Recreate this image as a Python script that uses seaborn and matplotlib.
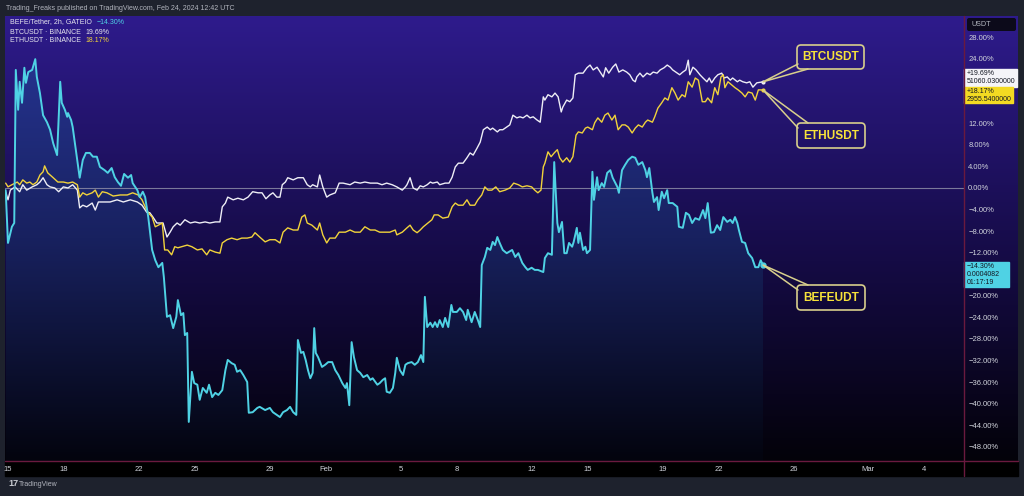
import numpy as np
import pandas as pd
import matplotlib
matplotlib.use("Agg")
import matplotlib.pyplot as plt
import seaborn as sns
from matplotlib.colors import LinearSegmentedColormap
from matplotlib.patches import FancyBboxPatch, Rectangle
from matplotlib.ticker import FuncFormatter

# hours since 15 Jan 2024 00:00 UTC and % change
bef_h = [-3, 0, 5, 8, 10, 13, 15, 18, 21, 23, 26, 31, 35, 37, 41, 45, 50, 54, 58, 63,
         67, 69, 73, 76, 77, 81, 83, 87, 92, 96, 100, 105, 109, 114, 118, 124, 128, 133, 137, 141,
         145, 149, 154, 158, 160, 166, 169, 173, 176, 180, 185, 189, 193, 198, 200, 204, 208, 212, 216, 218,
         222, 225, 227, 230, 232, 236, 239, 243, 246, 250, 255, 258, 262, 266, 270, 275, 279, 282, 287, 291,
         294, 298, 302, 307, 309, 314, 320, 323, 330, 336, 340, 345, 349, 353, 358, 362, 366, 370, 372, 376,
         379, 382, 385, 388, 391, 393, 395, 398, 403, 407, 411, 416, 420, 424, 429, 433, 435, 438, 441, 444,
         448, 452, 456, 461, 465, 468, 474, 477, 481, 484, 486, 490, 494, 497, 499, 503, 507, 510, 513, 518,
         522, 526, 530, 533, 535, 538, 542, 545, 548, 551, 554, 558, 561, 565, 569, 571, 576, 580, 584, 588,
         590, 595, 599, 603, 606, 608, 612, 615, 619, 622, 625, 628, 631, 635, 640, 647, 651, 655, 660, 664,
         667, 672, 676, 680, 687, 689, 693, 698, 701, 705, 707, 711, 714, 717, 720, 724, 726, 730, 732, 734,
         738, 741, 743, 747, 750, 752, 756, 758, 762, 765, 769, 773, 776, 782, 784, 788, 792, 796, 801, 805,
         809, 814, 818, 820, 823, 827, 829, 833, 835, 839, 842, 846, 848, 853, 859, 861, 866, 870, 874, 878,
         882, 887, 892, 895, 898, 902, 906, 910, 914, 918, 923, 927, 930, 933, 936, 938, 942, 946, 950, 955,
         959, 963, 966, 969]
bef_pct = [-0.4, -10.2, -7.2, -6.5, 21.9, 14.5, 19.7, 15.8, 22.3, 19.5, 21.5, 21.9, 23.9, 20.6, 17.6, 13.5, 12.2, 10.8, 8.3, 6.1,
           19.7, 15.8, 14.5, 13.2, 13.9, 12.6, 11.3, 7.1, 1.9, 5.2, 6.5, 6.5, 5.8, 5.8, 3.9, 3.3, 2.8, 3.7, 2.0, 1.1,
           0.4, 2.6, 1.9, 2.4, 0.9, -0.4, -1.7, -0.7, -1.7, -5.4, -11.5, -13.4, -14.7, -13.9, -16.5, -23.9, -23.6, -26.0, -23.9, -20.8,
           -23.6, -23.2, -27.3, -26.9, -43.4, -34.1, -36.2, -36.5, -39.3, -37.1, -38.0, -36.5, -38.8, -38.0, -38.4, -37.5, -33.8, -31.9, -32.5, -32.8,
           -34.1, -33.8, -34.7, -36.0, -41.7, -41.6, -40.8, -40.6, -41.2, -40.8, -41.6, -42.1, -42.5, -41.6, -41.2, -40.6, -41.6, -42.1, -28.2, -30.6,
           -30.4, -31.9, -33.8, -35.3, -34.3, -26.0, -30.6, -31.4, -33.2, -32.8, -32.3, -32.3, -33.8, -34.7, -36.2, -37.1, -36.2, -40.3, -28.6, -31.4,
           -33.8, -34.3, -35.1, -34.7, -35.6, -35.3, -36.5, -36.2, -35.6, -35.3, -37.8, -38.0, -37.1, -34.3, -31.5, -33.8, -34.7, -32.8, -32.5, -32.3,
           -32.8, -32.3, -31.0, -32.3, -20.2, -25.8, -25.0, -25.8, -24.9, -25.8, -24.5, -25.8, -24.1, -25.8, -21.7, -23.0, -23.0, -22.3, -23.0, -24.5,
           -22.6, -24.9, -23.0, -24.5, -25.8, -14.3, -12.8, -11.1, -11.5, -10.0, -10.6, -9.1, -10.2, -11.5, -12.1, -11.5, -12.8, -12.1, -13.9, -14.7,
           -15.2, -14.8, -15.2, -15.2, -15.6, -13.0, -12.1, -12.4, 4.8, -6.5, -8.2, -6.3, -12.1, -12.1, -10.2, -10.9, -10.0, -7.4, -10.2, -8.3,
           -11.5, -10.9, -12.1, -11.5, 3.0, -2.2, 2.0, -0.4, 0.9, 0.2, 2.8, 3.3, 1.9, 0.2, -0.9, 3.3, 4.3, 5.2, 5.8, 5.6,
           4.3, 4.8, 3.3, 2.0, 3.7, -0.9, -2.6, -1.7, -4.1, -0.7, -1.9, -0.4, -2.8, -2.8, -3.5, -7.2, -7.4, -4.6, -5.0, -6.5,
           -5.6, -5.9, -4.1, -5.6, -2.8, -8.3, -8.2, -6.9, -7.8, -5.4, -6.3, -5.9, -6.5, -5.4, -6.5, -7.8, -10.0, -10.2, -12.1, -13.0,
           -14.7, -14.7, -13.4, -14.3]

btc_h = [-3, 0, 3, 9, 15, 19, 24, 31, 37, 41, 45, 50, 54, 60, 65, 71, 77, 83, 89, 92,
         96, 101, 108, 112, 116, 122, 131, 140, 148, 157, 166, 172, 178, 182, 186, 191, 195, 199, 204, 208,
         212, 217, 221, 227, 234, 240, 246, 253, 259, 266, 272, 275, 279, 282, 289, 295, 302, 308, 314, 321,
         326, 331, 336, 340, 345, 349, 352, 356, 359, 366, 372, 379, 384, 388, 391, 397, 400, 404, 409, 413,
         420, 425, 430, 439, 445, 452, 458, 465, 474, 480, 486, 493, 499, 506, 510, 512, 516, 520, 525, 529,
         533, 538, 542, 545, 551, 554, 561, 566, 570, 574, 578, 584, 589, 593, 597, 602, 606, 610, 615, 619,
         622, 628, 631, 635, 640, 644, 648, 653, 657, 661, 666, 670, 674, 679, 683, 687, 689, 693, 698, 702,
         706, 710, 712, 717, 721, 725, 728, 732, 738, 743, 747, 751, 756, 760, 764, 767, 771, 776, 780, 784,
         789, 794, 798, 802, 805, 807, 811, 815, 820, 824, 828, 833, 837, 842, 846, 850, 853, 859, 862, 866,
         870, 873, 875, 879, 883, 888, 892, 897, 900, 903, 907, 911, 916, 919, 923, 927, 930, 936, 939, 943,
         948, 952, 956, 961, 969]
btc_pct = [-0.7, -2.2, -0.4, 0.2, -0.7, 0.6, -0.4, 0.2, 0.6, 1.1, 1.9, 0.6, 0.2, 0.0, -0.7, 0.2, 0.0, 0.6, -0.4, -3.7,
           -3.2, -3.5, -2.8, -4.1, -2.6, -2.6, -2.6, -2.2, -2.6, -2.2, -2.6, -3.2, -4.5, -4.6, -5.4, -6.5, -6.5, -6.5, -9.1, -8.2,
           -7.2, -6.5, -6.9, -5.9, -6.5, -6.3, -6.5, -6.3, -6.5, -6.3, -6.3, -3.5, -2.8, -1.7, -2.2, -1.9, -2.2, -1.7, -0.7, -0.9,
           -0.9, -2.0, -1.3, -0.9, -1.7, -1.7, 0.6, 1.1, 1.9, 1.5, 1.9, 1.9, 0.6, 0.2, 0.6, 0.2, 2.4, 0.2, -1.7, -1.3,
           -0.9, 0.9, 0.9, 0.6, 1.1, 0.9, 1.1, 0.9, 0.9, 0.6, 0.9, 0.6, 0.2, -0.4, 0.2, 0.6, 1.9, 0.0, -0.4, 0.4,
           0.2, 0.6, 1.1, 0.9, 1.1, 0.6, 0.9, 0.9, 2.0, 3.9, 4.6, 4.6, 5.6, 6.5, 6.1, 7.4, 8.5, 10.8, 11.3, 10.8,
           11.1, 10.4, 10.8, 10.8, 11.3, 11.7, 13.5, 13.0, 13.2, 13.0, 13.5, 13.0, 13.2, 12.6, 12.2, 16.9, 16.3, 17.3, 16.9, 17.6,
           16.9, 14.1, 15.0, 16.3, 16.0, 16.7, 21.0, 21.3, 21.3, 22.3, 22.8, 21.9, 22.4, 21.5, 20.6, 22.3, 21.3, 22.4, 23.0, 21.5,
           21.9, 21.5, 21.0, 20.0, 19.7, 20.6, 21.3, 20.6, 21.3, 21.0, 21.5, 21.3, 21.9, 22.3, 22.8, 22.4, 21.9, 21.3, 21.0, 21.5,
           21.9, 23.7, 21.0, 22.4, 21.9, 21.0, 20.4, 19.7, 20.4, 19.5, 20.4, 21.0, 21.3, 20.4, 20.6, 20.0, 20.4, 19.7, 20.0, 19.7,
           19.5, 19.7, 18.7, 19.5, 19.69]

eth_h = [-3, 0, 5, 12, 15, 19, 24, 28, 32, 37, 41, 45, 47, 51, 58, 64, 71, 77, 83, 89,
         92, 96, 101, 108, 112, 116, 121, 127, 135, 144, 153, 160, 167, 172, 176, 180, 185, 189, 193, 198,
         201, 205, 210, 214, 218, 223, 230, 236, 243, 249, 255, 259, 266, 272, 275, 281, 287, 294, 300, 307,
         313, 317, 323, 330, 336, 343, 349, 353, 359, 366, 372, 377, 381, 384, 390, 397, 400, 404, 409, 413,
         420, 425, 433, 439, 445, 452, 458, 465, 471, 477, 484, 490, 497, 499, 506, 512, 516, 520, 525, 529,
         533, 539, 544, 547, 552, 558, 565, 570, 574, 578, 584, 589, 593, 599, 603, 608, 612, 616, 621, 626,
         631, 638, 644, 649, 655, 660, 666, 672, 676, 680, 684, 687, 689, 693, 697, 701, 705, 708, 712, 717,
         721, 725, 729, 732, 737, 741, 744, 750, 753, 757, 762, 766, 770, 775, 779, 783, 788, 792, 796, 801,
         805, 809, 814, 818, 821, 827, 830, 834, 839, 843, 847, 852, 856, 860, 865, 869, 873, 878, 882, 886,
         891, 895, 898, 903, 907, 911, 915, 918, 920, 924, 929, 933, 937, 942, 946, 950, 955, 959, 963, 969]
eth_pct = [0.9, 0.2, 0.6, 1.1, 0.6, 1.5, 0.9, 1.1, 0.6, 1.1, 2.4, 3.0, 4.1, 2.8, 1.9, 1.1, 1.1, 0.9, 1.1, 0.6,
           -1.7, -0.9, -1.3, -0.9, -0.4, -1.7, -0.7, -0.9, -1.5, -1.3, -1.3, -0.9, -1.3, -2.2, -3.5, -4.6, -5.4, -7.2, -6.9, -6.5,
           -11.5, -11.5, -12.4, -10.9, -11.1, -10.9, -10.6, -10.9, -11.5, -11.3, -12.4, -11.5, -11.9, -12.1, -10.2, -9.6, -9.3, -9.6, -9.3, -9.3,
           -9.1, -8.3, -9.1, -10.0, -9.6, -9.6, -10.2, -8.2, -7.4, -7.8, -7.8, -5.4, -5.0, -6.5, -6.9, -7.8, -6.5, -8.7, -10.2, -9.3,
           -9.3, -8.2, -8.2, -7.8, -8.2, -8.2, -7.2, -7.8, -7.8, -8.2, -8.2, -8.2, -7.8, -8.7, -8.2, -7.4, -6.9, -7.8, -8.3, -7.8,
           -7.2, -6.5, -5.9, -5.0, -5.0, -5.6, -5.4, -3.5, -2.8, -3.2, -3.2, -2.2, -3.2, -3.2, -2.2, -1.3, 0.2, -0.4, -0.4, 0.2,
           -0.7, -0.4, 0.0, 0.9, 0.6, 0.2, 0.4, 0.2, -0.4, -0.9, -0.4, 3.9, 4.6, 6.7, 5.8, 6.5, 7.1, 5.6, 4.8, 5.6,
           4.8, 5.8, 9.8, 10.4, 10.2, 11.1, 11.3, 10.8, 12.1, 13.0, 12.2, 13.5, 13.9, 12.6, 13.5, 10.8, 11.7, 11.7, 11.3, 10.2,
           11.1, 11.7, 11.3, 12.2, 12.6, 12.2, 13.2, 14.8, 15.8, 16.7, 16.3, 18.6, 17.6, 16.3, 17.3, 16.9, 19.7, 18.7, 20.4, 20.0,
           16.0, 16.0, 16.7, 15.8, 18.6, 17.3, 20.6, 21.0, 18.6, 19.7, 19.1, 18.6, 18.2, 17.6, 16.9, 17.8, 17.6, 16.3, 18.2, 18.17]

# time axis labels (day offset from 15 Jan)
tick_days = [0, 3, 7, 10, 14, 17, 21, 24, 28, 31, 35, 38, 42, 46, 49]
tick_labels = ["15", "18", "22", "25", "29", "Feb", "5", "8", "12", "15", "19", "22", "26", "Mar", "4"]
# price scale levels; 20% and -16% sit under the price tags
pct_ticks = [28, 24, 16, 12, 8, 4, 0, -4, -8, -12, -20, -24, -28, -32, -36, -40, -44, -48]

W, H = 1024, 496
sns.set_theme(style="dark")
plt.rcParams["font.family"] = ["Liberation Sans", "DejaVu Sans"]

fig = plt.figure(figsize=(W / 100, H / 100), dpi=100, facecolor="#1e222d")


def fig_rect(x0, y0, x1, y1):
    # pixel box (top-left origin) -> figure fraction rect
    return [x0 / W, 1 - y1 / H, (x1 - x0) / W, (y1 - y0) / H]


# black time-scale strip behind everything
fig.add_artist(Rectangle((5 / W, 1 - 476 / H), 1013 / W, 15 / H, transform=fig.transFigure,
                         color="#000000", zorder=-5))

# gradient backdrop for chart + price scale
bg = fig.add_axes(fig_rect(5, 16, 1018, 461))
bg_cmap = LinearSegmentedColormap.from_list(
    "bg", [(0.0, "#030209"), (0.45, "#150b45"), (1.0, "#2e1b8c")])
bg.imshow(np.linspace(0, 1, 256).reshape(-1, 1), aspect="auto", cmap=bg_cmap,
          origin="lower", extent=[0, 1, 0, 1])
bg.set_axis_off()

ax = fig.add_axes(fig_rect(5, 16, 964, 461))
ax.set_facecolor("none")
x_lo, x_hi = -3.85, 1226.9
y_lo, y_hi = -50.65, 31.9

# gradient fill under BEFE
fill = ax.fill_between(bef_h, bef_pct, y_lo, color="none", lw=0)
fill_cmap = LinearSegmentedColormap.from_list(
    "fill", [(0.0, "#03040e"), (0.5, "#18215f"), (1.0, "#28379a")])
grad = ax.imshow(np.linspace(0, 1, 256).reshape(-1, 1), aspect="auto", cmap=fill_cmap,
                 origin="lower", extent=[bef_h[0], bef_h[-1], y_lo, y_hi], zorder=1)
grad.set_clip_path(fill.get_paths()[0], transform=ax.transData)

ax.axhline(0, color="#8c8ca6", lw=0.8, alpha=0.85, zorder=2)

df_bef = pd.DataFrame({"h": bef_h, "pct": bef_pct})
df_btc = pd.DataFrame({"h": btc_h, "pct": btc_pct})
df_eth = pd.DataFrame({"h": eth_h, "pct": eth_pct})
sns.lineplot(data=df_btc, x="h", y="pct", ax=ax, color="#eeeef6", lw=1.0, errorbar=None, zorder=4)
sns.lineplot(data=df_eth, x="h", y="pct", ax=ax, color="#f1d33b", lw=1.0, errorbar=None, zorder=4)
sns.lineplot(data=df_bef, x="h", y="pct", ax=ax, color="#4fd2e4", lw=1.4, errorbar=None, zorder=5)
ax.plot(bef_h[-1], bef_pct[-1], "o", color="#4fd2e4", ms=3.5, zorder=6)
ax.plot(btc_h[-1], btc_pct[-1], "o", color="#eeeef6", ms=2, zorder=6)
ax.plot(eth_h[-1], eth_pct[-1], "o", color="#f1d33b", ms=2, zorder=6)
ax.set_xlim(x_lo, x_hi)
ax.set_ylim(y_lo, y_hi)

for s in ax.spines.values():
    s.set_visible(False)
ax.grid(False)
ax.set_xlabel("")
ax.set_ylabel("")
ax.yaxis.tick_right()
ax.set_yticks(pct_ticks)
ax.yaxis.set_major_formatter(FuncFormatter(lambda v, _: f"{v:.2f}%".replace("-", "\u2212")))
ax.set_xticks([d * 24 for d in tick_days])
ax.set_xticklabels(tick_labels)
ax.tick_params(axis="y", length=0, pad=3, labelsize=5.5, labelcolor="#d1d4dc")
ax.tick_params(axis="x", length=0, pad=3.5, labelsize=5.5, labelcolor="#d1d4dc")

# overlay in pixel coordinates for the TradingView chrome
ov = fig.add_axes([0, 0, 1, 1], facecolor="none", zorder=10)
ov.set_xlim(0, W)
ov.set_ylim(H, 0)
ov.set_axis_off()

ov.plot([5, 1018], [461, 461], color="#6a1a3e", lw=1)
ov.plot([964, 964], [16, 476], color="#6a1a3e", lw=1)


def data_px(hx, py):
    dx, dy = ax.transData.transform((hx, py))
    return dx, H - dy


# callout boxes
callouts = [("BTCUSDT", (797, 45, 864, 69), btc_h[-1], btc_pct[-1], "bottom"),
            ("ETHUSDT", (797, 123, 865, 148), eth_h[-1], eth_pct[-1], "top"),
            ("BEFEUDT", (797, 285, 865, 310), bef_h[-1], bef_pct[-1], "top")]
edge = "#d8cf8c"
for label, (x0, y0, x1, y1), hx, py, side in callouts:
    tx, ty = data_px(hx, py)
    if side == "bottom":
        ov.plot([x0 + 1, tx, x0 + 11], [y1 - 5, ty, y1], color=edge, lw=1.1)
    else:
        ov.plot([x0 + 1, tx, x0 + 11], [y0 + 5, ty, y0], color=edge, lw=1.1)
    ov.add_patch(FancyBboxPatch((x0, y0), x1 - x0, y1 - y0,
                                boxstyle="round,pad=0,rounding_size=4",
                                fc="none", ec=edge, lw=1.2))
    ov.text((x0 + x1) / 2, (y0 + y1) / 2 + 0.5, label, color="#f7e23a", fontsize=8.6,
            fontweight="bold", ha="center", va="center")

# price tags on the scale
tags = [((964, 69, 1017, 87), "#f4f4f8", ["+19.69%", "51060.0300000"]),
        ((964, 87, 1013, 103), "#f3da22", ["+18.17%", "2955.5400000"]),
        ((964, 262, 1009, 287), "#4fd2e4", ["\u221214.30%", "0.0004082", "01:17:19"])]
for (x0, y0, x1, y1), col, lines in tags:
    ov.add_patch(Rectangle((x0, y0), x1 - x0, y1 - y0, color=col))
    ov.text(x0 + 3, y0 + 1, "\n".join(lines), color="#131722", fontsize=5.0,
            ha="left", va="top", linespacing=1.2)

ov.add_patch(FancyBboxPatch((967, 18), 49, 13, boxstyle="round,pad=0,rounding_size=2",
                            fc="#0c0a1a", ec="none"))
ov.text(971, 24.5, "USDT", color="#b2b5be", fontsize=5.2, va="center")

# header and legend
ov.text(6, 8, "Trading_Freaks published on TradingView.com, Feb 24, 2024 12:42 UTC",
        color="#b2b5be", fontsize=5.0, va="center")
legend_rows = [(22, "BEFE/Tether, 2h, GATEIO", "\u221214.30%", "#4fd2e4"),
               (32, "BTCUSDT \u00b7 BINANCE", "19.69%", "#e6e6ee"),
               (41, "ETHUSDT \u00b7 BINANCE", "18.17%", "#f1d33b")]
for y, name, val, col in legend_rows:
    t = ov.text(10, y, name, color="#e6e6ee", fontsize=5.0, va="center")
    ov.annotate(val, xy=(1, 0.5), xycoords=t, xytext=(3.5, 0), textcoords="offset points",
                color=col, fontsize=5.0, va="center")

# footer logo
ov.text(8, 484, "17", color="#c8cad0", fontsize=6.5, fontweight="bold", va="center")
ov.text(19, 484, "TradingView", color="#b2b5be", fontsize=5.0, va="center")

fig.savefig("out.png", dpi=100, facecolor=fig.get_facecolor())
